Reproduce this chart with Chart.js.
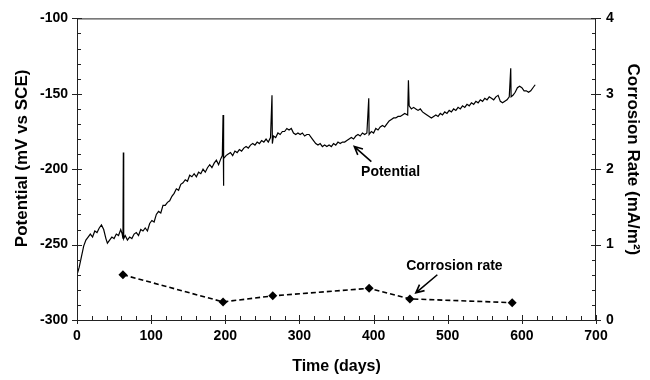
<!DOCTYPE html>
<html>
<head>
<meta charset="utf-8">
<title>Potential and corrosion rate vs time</title>
<script src="https://cdn.jsdelivr.net/npm/chart.js@4.4.1/dist/chart.umd.min.js"></script>
<style>
  html, body { margin: 0; padding: 0; background: #fff; }
  #wrap { width: 650px; height: 380px; }
</style>
</head>
<body>
<div id="wrap"><canvas id="chart" width="650" height="380"></canvas></div>
<script>
// potential record (mV vs SCE)
const potentialDays = [
  0, 3, 6, 9, 12, 15, 18, 21, 24, 27, 30, 33, 36, 39, 41, 44, 47, 50, 53, 56, 59, 61, 62, 62.5, 63,
  65, 68, 71, 74, 77, 80, 83, 86, 89, 92, 95, 98, 101, 104, 107, 110, 113, 116, 119, 122, 125,
  128, 131, 134, 137, 140, 143, 146, 149, 152, 155, 158, 161, 164, 167, 170, 173, 176, 179, 182,
  185, 188, 191, 194, 196, 197, 197.5, 198, 201, 204, 207, 210, 213, 216, 219, 222, 225, 228, 231,
  234, 237, 240, 243, 246, 249, 252, 255, 258, 261, 263, 263.5, 265, 268, 271, 274, 277, 280, 283,
  286, 289, 292, 295, 298, 301, 304, 307, 310, 313, 316, 319, 322, 325, 328, 331, 334, 337, 340,
  343, 346, 349, 352, 355, 358, 361, 364, 367, 370, 373, 376, 379, 382, 385, 388, 391, 393.5, 394,
  397, 400, 403, 406, 409, 412, 415, 418, 421, 424, 427, 430, 433, 436, 439, 442, 446, 447, 448,
  451, 454, 457, 460, 463, 466, 469, 472, 475, 478, 481, 484, 487, 490, 493, 496, 499, 502, 505,
  508, 511, 514, 517, 520, 523, 526, 529, 532, 535, 538, 541, 544, 547, 550, 553, 556, 559, 562,
  565, 568, 571, 574, 577, 580, 583, 585, 585.5, 588, 591, 594, 597, 600, 603, 606, 609, 612, 615, 618
];
const potentialMv = [
  -270, -265, -258, -251, -247, -245, -243, -245, -241, -242, -239, -237, -240, -246, -249, -247, -245, -246, -243, -244, -240, -243, -246, -189, -246,
  -244, -247, -245, -246, -243, -242, -244, -240, -241, -239, -241, -236, -234, -235, -230, -228, -229, -224, -224, -222, -221,
  -218, -216, -213, -214, -210, -209, -207, -208, -204, -205, -203, -205, -202, -203, -200, -202, -199, -197, -199,
  -196, -194, -197, -193, -191, -164, -211, -193, -191, -190, -189, -191, -188, -189, -187, -188, -186, -185, -186,
  -184, -183, -184, -182, -183, -181, -182, -180, -182, -179, -151, -183, -178, -179, -176, -177, -175, -175, -173,
  -174, -173, -176, -177, -176, -177, -176, -178, -177, -177, -179, -181, -183, -184, -183, -185, -184, -185, -184,
  -185, -183, -184, -182, -183, -182, -182, -181, -180, -179, -180, -178, -177, -178, -176, -177, -176, -153, -177,
  -175, -176, -173, -174, -172, -171, -172, -170, -168, -167, -166, -166, -165, -165, -164, -163, -164, -141, -158,
  -160, -159, -160, -161, -160, -162, -163, -164, -165, -166, -165, -164, -165, -163, -164, -162, -163, -161, -162,
  -160, -161, -159, -160, -158, -159, -157, -158, -156, -157, -155, -156, -154, -155, -153, -154, -152, -153, -154,
  -152, -151, -155, -156, -155, -154, -152, -133, -152, -151, -149, -146, -145, -146, -148, -148, -149, -148, -146, -144
];

// corrosion rate (mA/m2)
const rateDays = [62, 197, 264, 394, 449, 587];
const rateValues = [0.60, 0.24, 0.32, 0.42, 0.28, 0.23];

// axis ticks
const timeTicks = [0, 100, 200, 300, 400, 500, 600, 700];
const potentialTicks = [-300, -250, -200, -150, -100];
const rateTicks = [0, 1, 2, 3, 4];

const FONT = "'Liberation Sans', Arial, sans-serif";
const tickFont = { family: FONT, size: 14, weight: "bold" };

function pts(xs, ys) {
  return xs.map((x, i) => ({ x: x, y: ys[i] }));
}

// frame, inward ticks, axis titles and callouts
const decorations = {
  id: "decorations",
  afterDatasetsDraw(chart) {
    const ctx = chart.ctx;
    const a = chart.chartArea;
    const sx = chart.scales.x, sy = chart.scales.y, sr = chart.scales.y2;

    ctx.save();
    ctx.strokeStyle = "#222";
    ctx.lineWidth = 1;
    ctx.strokeRect(a.left + 0.5, a.top + 0.5, a.right - a.left - 1, a.bottom - a.top);

    ctx.beginPath();
    // x ticks
    for (let v = 0; v <= 700; v += 20) {
      const px = Math.round(sx.getPixelForValue(v)) + 0.5;
      const major = v % 100 === 0;
      ctx.moveTo(px, a.bottom + (major ? 4 : 0));
      ctx.lineTo(px, a.bottom - (major ? 5 : 4));
    }
    // left ticks
    for (let v = -300; v <= -100; v += 10) {
      const py = Math.round(sy.getPixelForValue(v)) + 0.5;
      const major = v % 50 === 0;
      ctx.moveTo(a.left - (major ? 5 : 0), py);
      ctx.lineTo(a.left + (major ? 5 : 4), py);
    }
    // right ticks
    for (let i = 0; i <= 20; i++) {
      const v = i * 0.2;
      const py = Math.round(sr.getPixelForValue(v)) + 0.5;
      const major = i % 5 === 0;
      ctx.moveTo(a.right + (major ? 5 : 0), py);
      ctx.lineTo(a.right - (major ? 5 : 4), py);
    }
    ctx.stroke();

    // y axis titles
    ctx.fillStyle = "#000";
    ctx.font = "bold 17px " + FONT;
    ctx.textAlign = "center";
    ctx.textBaseline = "middle";
    ctx.save();
    ctx.translate(22, a.top + 140);
    ctx.rotate(-Math.PI / 2);
    ctx.fillText("Potential (mV vs SCE)", 0, 0);
    ctx.restore();
    ctx.save();
    ctx.translate(633, a.top + 141);
    ctx.rotate(Math.PI / 2);
    ctx.fillText("Corrosion Rate (mA/m²)", 0, 0);
    ctx.restore();

    // callouts
    ctx.font = "bold 14px " + FONT;
    ctx.fillText("Potential", sx.getPixelForValue(423), sy.getPixelForValue(-202));
    ctx.fillText("Corrosion rate", sx.getPixelForValue(509), sy.getPixelForValue(-264));
    arrow(ctx, sx.getPixelForValue(397), sy.getPixelForValue(-195), sx.getPixelForValue(374), sy.getPixelForValue(-185));
    arrow(ctx, sx.getPixelForValue(486), sy.getPixelForValue(-270), sx.getPixelForValue(457), sy.getPixelForValue(-282));
    ctx.restore();
  }
};

function arrow(ctx, x1, y1, x2, y2) {
  const ang = Math.atan2(y2 - y1, x2 - x1);
  const h = 9;
  ctx.beginPath();
  ctx.lineWidth = 1.6;
  ctx.strokeStyle = "#000";
  ctx.moveTo(x1, y1);
  ctx.lineTo(x2, y2);
  ctx.moveTo(x2 - h * Math.cos(ang - 0.45), y2 - h * Math.sin(ang - 0.45));
  ctx.lineTo(x2, y2);
  ctx.lineTo(x2 - h * Math.cos(ang + 0.45), y2 - h * Math.sin(ang + 0.45));
  ctx.stroke();
}

new Chart(document.getElementById("chart"), {
  type: "line",
  data: {
    datasets: [
      {
        label: "Potential",
        data: pts(potentialDays, potentialMv),
        yAxisID: "y",
        borderColor: "#000",
        borderWidth: 1.2,
        pointRadius: 0,
        tension: 0
      },
      {
        label: "Corrosion rate",
        data: pts(rateDays, rateValues),
        yAxisID: "y2",
        borderColor: "#000",
        backgroundColor: "#000",
        borderWidth: 1.6,
        borderDash: [5, 3],
        pointStyle: "rectRot",
        pointRadius: 4.5,
        pointBorderWidth: 0,
        tension: 0
      }
    ]
  },
  options: {
    responsive: false,
    animation: false,
    devicePixelRatio: 1,
    layout: { padding: { top: 18, left: 0, right: 0, bottom: 0 } },
    plugins: { legend: { display: false }, tooltip: { enabled: false } },
    scales: {
      x: {
        type: "linear",
        position: "bottom",
        min: 0,
        max: 700,
        grid: { display: false, drawTicks: false },
        border: { display: false },
        ticks: { color: "#000", font: tickFont, padding: 8, maxRotation: 0, autoSkip: false },
        afterBuildTicks: (s) => { s.ticks = timeTicks.map((v) => ({ value: v })); },
        afterFit: (s) => { s.height = 60; },
        title: {
          display: true,
          text: "Time (days)",
          color: "#000",
          font: { family: FONT, size: 16, weight: "bold" },
          padding: { top: 0, bottom: 4 }
        }
      },
      y: {
        type: "linear",
        position: "left",
        min: -300,
        max: -100,
        grid: { display: false, drawTicks: false },
        border: { display: false },
        ticks: { color: "#000", font: tickFont, padding: 9, autoSkip: false },
        afterBuildTicks: (s) => { s.ticks = potentialTicks.map((v) => ({ value: v })); },
        afterFit: (s) => { s.width = 77; }
      },
      y2: {
        type: "linear",
        position: "right",
        min: 0,
        max: 4,
        grid: { display: false, drawTicks: false },
        border: { display: false },
        ticks: { color: "#000", font: tickFont, padding: 10, autoSkip: false },
        afterBuildTicks: (s) => { s.ticks = rateTicks.map((v) => ({ value: v })); },
        afterFit: (s) => { s.width = 54; }
      }
    }
  },
  plugins: [decorations]
});
</script>
</body>
</html>
